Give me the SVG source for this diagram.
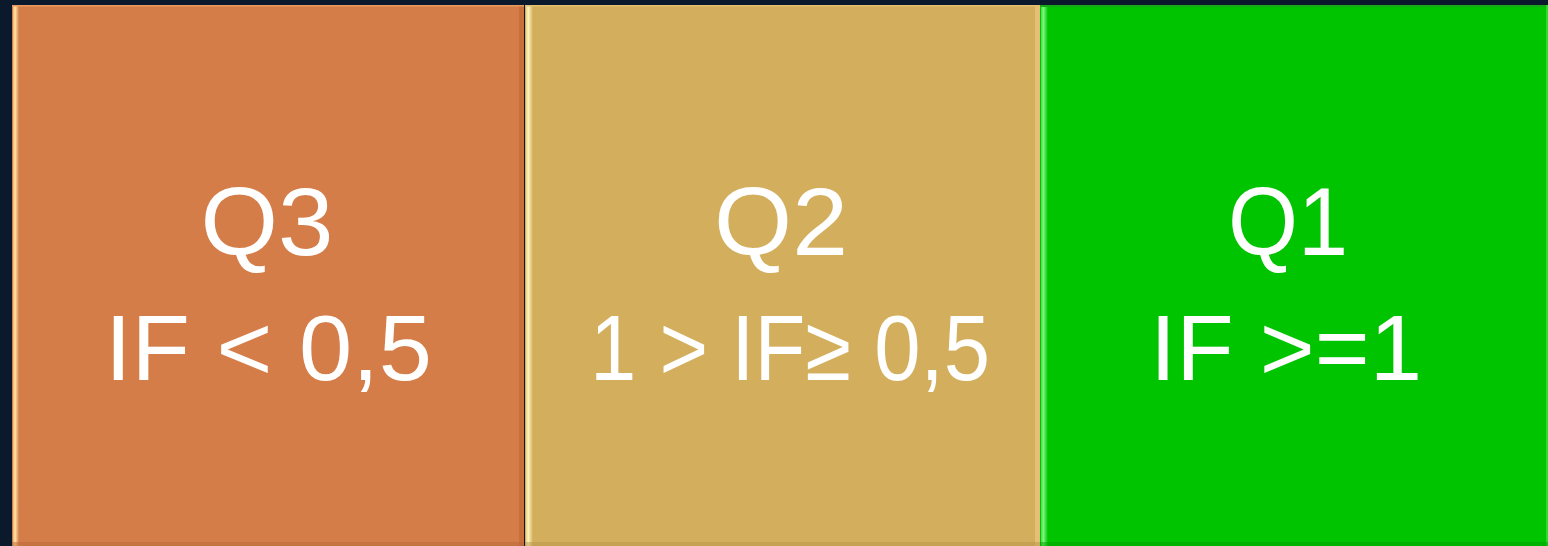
<svg xmlns="http://www.w3.org/2000/svg" width="1548" height="546" viewBox="0 0 1548 546">
<style>
.lbl{font-family:"Liberation Sans",Arial,sans-serif;font-size:92px;fill:#ffffff;text-anchor:middle}
.big{font-size:96px}
</style>
<defs>
<linearGradient id="hlO" x1="0" x2="1" y1="0" y2="0">
<stop offset="0" stop-color="#f0b070"/><stop offset="0.35" stop-color="#ffe6a8"/><stop offset="1" stop-color="#d57d48"/>
</linearGradient>
<linearGradient id="hlT" x1="0" x2="1" y1="0" y2="0">
<stop offset="0" stop-color="#f0d080"/><stop offset="0.35" stop-color="#fff2b8"/><stop offset="1" stop-color="#d3ae5c"/>
</linearGradient>
<linearGradient id="hlG" x1="0" x2="1" y1="0" y2="0">
<stop offset="0" stop-color="#40e040"/><stop offset="0.35" stop-color="#80f480"/><stop offset="1" stop-color="#00c400"/>
</linearGradient>
</defs>
<rect x="0" y="0" width="1548" height="546" fill="#0a1a2c"/>
<g id="q3">
<rect x="12" y="5" width="512" height="541" fill="#d57d48"/>
<rect x="13" y="6" width="6" height="540" fill="url(#hlO)"/>
<rect x="519" y="5" width="5" height="541" fill="#c26a38" opacity="0.7"/>
<rect x="12" y="5" width="512" height="1.5" fill="#e89a60"/>
<rect x="12" y="542" width="512" height="4" fill="#b8683a" opacity="0.5"/>
<text class="lbl big" x="267" y="255" textLength="133" lengthAdjust="spacingAndGlyphs">Q3</text>
<text class="lbl" x="268.5" y="380" textLength="327" lengthAdjust="spacingAndGlyphs">IF &lt; 0,5</text>
</g>
<g id="q2">
<rect x="525" y="5" width="515" height="541" fill="#d3ae5c"/>
<rect x="526" y="6" width="7" height="540" fill="url(#hlT)"/>
<rect x="1035" y="5" width="5" height="541" fill="#e8c37a" opacity="0.8"/>
<rect x="525" y="5" width="515" height="1.5" fill="#e3c070"/>
<rect x="525" y="542" width="515" height="4" fill="#b89448" opacity="0.5"/>
<text class="lbl big" x="781" y="255" textLength="134" lengthAdjust="spacingAndGlyphs">Q2</text>
<text class="lbl" x="790" y="380" textLength="400" lengthAdjust="spacingAndGlyphs">1 &gt; IF≥ 0,5</text>
</g>
<g id="q1">
<rect x="1040" y="5" width="508" height="541" fill="#00c400"/>
<rect x="1041" y="6" width="7" height="540" fill="url(#hlG)"/>
<rect x="1040" y="5" width="508" height="2" fill="#18a818"/>
<rect x="1546" y="5" width="2" height="541" fill="#30d830"/>
<rect x="1040" y="542" width="508" height="4" fill="#00a000" opacity="0.5"/>
<text class="lbl big" x="1288" y="255" textLength="120" lengthAdjust="spacingAndGlyphs">Q1</text>
<text class="lbl" x="1286" y="380" textLength="272" lengthAdjust="spacingAndGlyphs">IF &gt;=1</text>
</g>
<g id="connectors"/>
</svg>
